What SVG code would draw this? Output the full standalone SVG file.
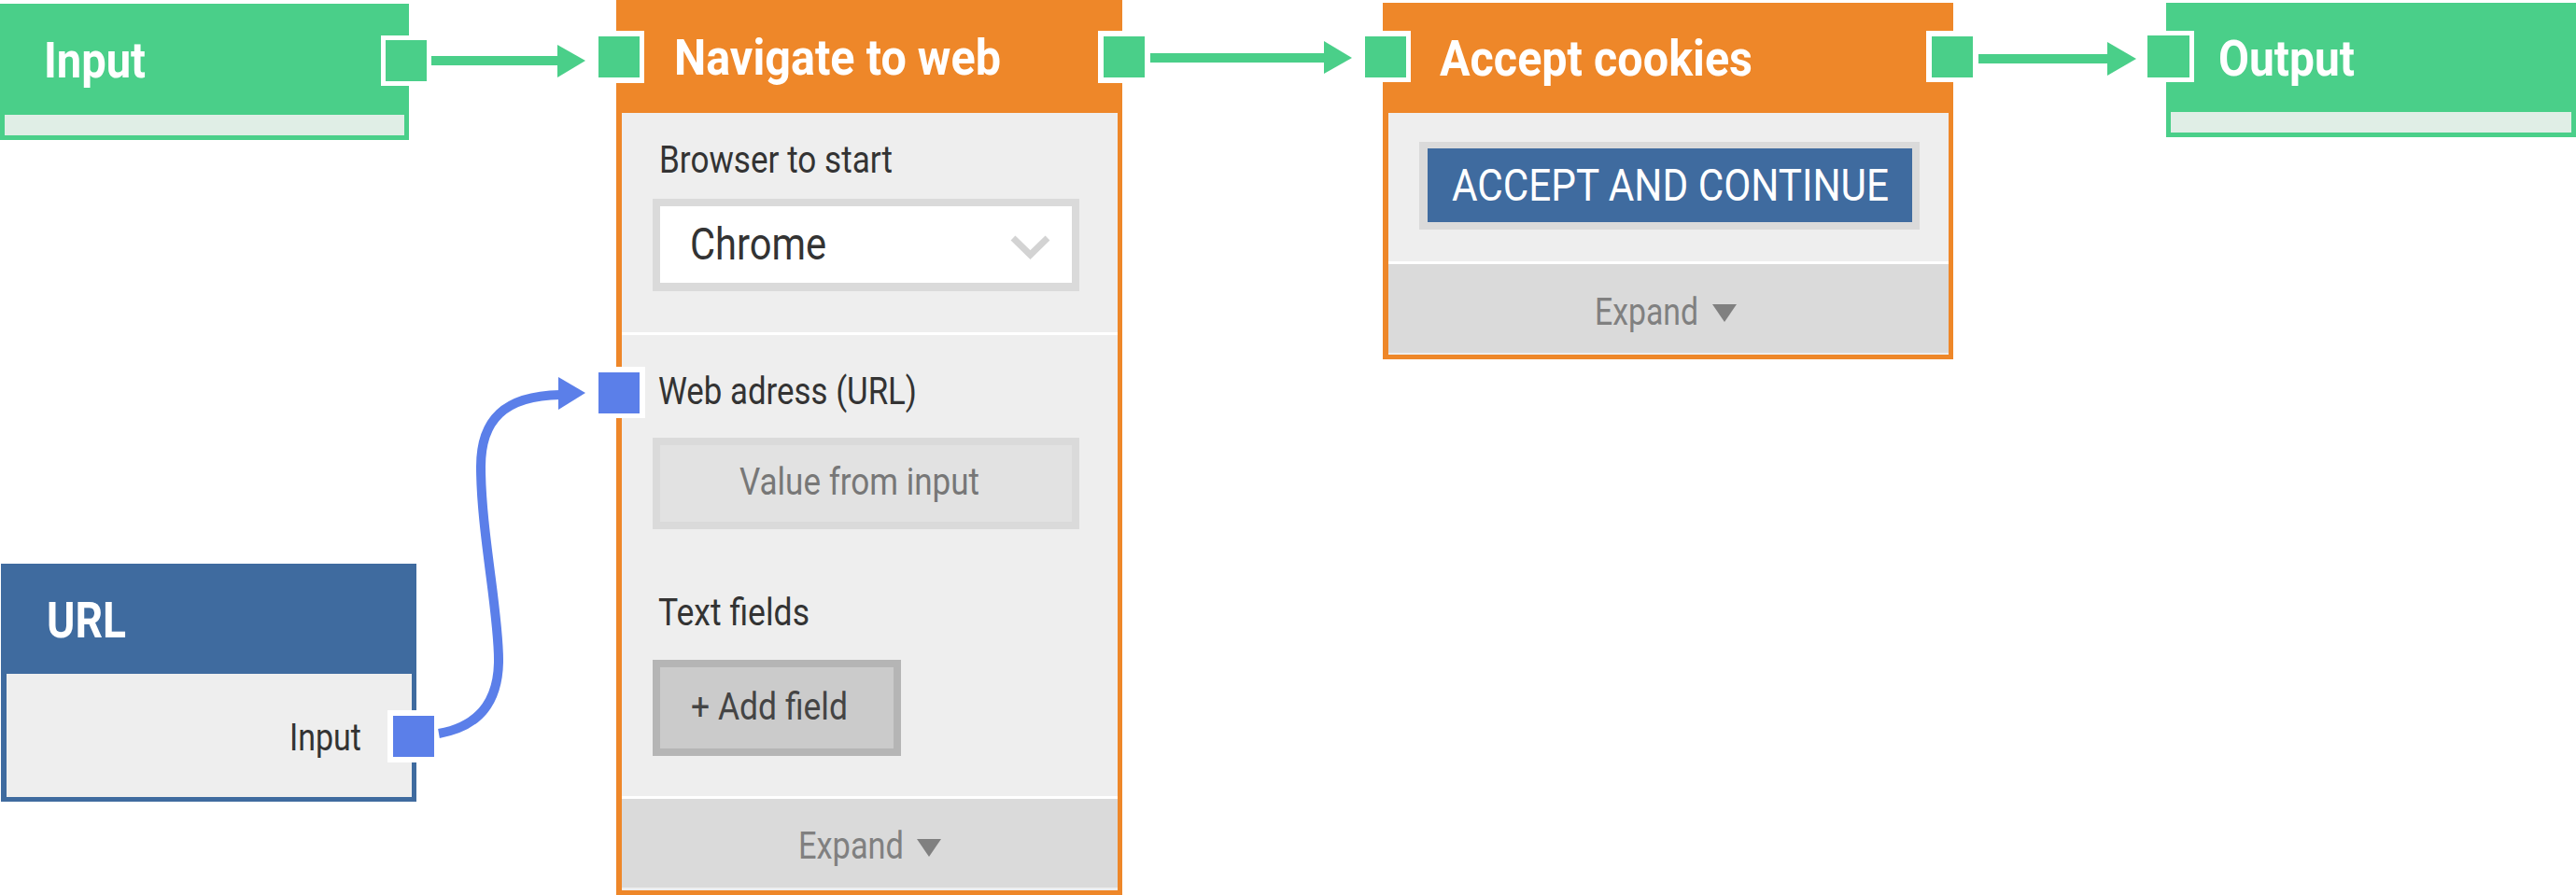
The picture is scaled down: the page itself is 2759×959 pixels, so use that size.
<svg xmlns="http://www.w3.org/2000/svg" width="2759" height="959" viewBox="0 0 2759 959">
<defs>
<style>
.green{fill:#4acf89}
.orange{fill:#ee8729}
.navy{fill:#3f6b9f}
.body{fill:#eeeeee}
.sep{fill:#ffffff}
.exp{fill:#dadada}
.bar{fill:#e0eee6}
.pw{fill:#ffffff}
.pg{fill:#4acf89}
.pb{fill:#5b7fe9}
.title{font-family:Roboto,"Liberation Sans",sans-serif;font-weight:700;font-size:53px;fill:#ffffff}
.lbl{font-family:Roboto,"Liberation Sans",sans-serif;font-size:40px;fill:#333333}
.big{font-family:Roboto,"Liberation Sans",sans-serif;font-size:48px;fill:#333333}
.muted{font-family:Roboto,"Liberation Sans",sans-serif;font-size:40px;fill:#777777}
.expt{font-family:Roboto,"Liberation Sans",sans-serif;font-size:41px;fill:#808080}
.tri{fill:#808080}
.gline{stroke:#4acf89;stroke-width:10;fill:none}
.bline{stroke:#5b7fe9;stroke-width:10;fill:none}
</style>
</defs>

<g id="node-input">
<rect class="green" x="0" y="4" width="438" height="146"/>
<rect class="bar" x="5" y="123" width="428" height="22"/>
<text class="title" x="47" y="83" textLength="109" lengthAdjust="spacingAndGlyphs">Input</text>
<rect class="pw" x="408" y="38" width="55" height="54"/>
<rect class="pg" x="413" y="43" width="44" height="44"/>
</g>

<g id="node-navigate">
<rect class="orange" x="660" y="0" width="542" height="959"/>
<rect class="body" x="666" y="121" width="531" height="833"/>
<text class="title" x="722" y="80" textLength="350" lengthAdjust="spacingAndGlyphs">Navigate to web</text>
<rect class="pw" x="636" y="33" width="54" height="56"/>
<rect class="pg" x="641" y="39" width="44" height="44"/>
<rect class="pw" x="1176" y="33" width="55" height="56"/>
<rect class="pg" x="1182" y="39" width="44" height="44"/>
<text class="lbl" x="706" y="185" textLength="250" lengthAdjust="spacingAndGlyphs">Browser to start</text>
<rect x="699" y="213" width="457" height="99" fill="#dadada"/>
<rect x="707" y="221" width="441" height="82" fill="#ffffff"/>
<text class="big" x="739" y="278" textLength="146" lengthAdjust="spacingAndGlyphs">Chrome</text>
<polyline points="1085,255 1103.5,273 1122,255" fill="none" stroke="#d3d3d3" stroke-width="7"/>
<rect class="sep" x="666" y="356" width="531" height="3"/>
<rect class="pw" x="636" y="393" width="55" height="55"/>
<rect class="pb" x="641" y="399" width="44" height="44"/>
<text class="lbl" x="705" y="433" textLength="277" lengthAdjust="spacingAndGlyphs">Web adress (URL)</text>
<rect x="699" y="469" width="457" height="98" fill="#dadada"/>
<rect x="707" y="477" width="441" height="82" fill="#e2e2e2"/>
<text class="muted" x="792" y="530" textLength="257" lengthAdjust="spacingAndGlyphs">Value from input</text>
<text class="lbl" x="705" y="670" textLength="162" lengthAdjust="spacingAndGlyphs">Text fields</text>
<rect x="699" y="707" width="266" height="103" fill="#b5b5b5"/>
<rect x="707" y="715" width="250" height="87" fill="#cbcbcb"/>
<text class="lbl" x="740" y="771" textLength="168" lengthAdjust="spacingAndGlyphs" style="fill:#444444">+ Add field</text>
<rect class="sep" x="666" y="853" width="531" height="3"/>
<rect class="exp" x="666" y="856" width="531" height="95"/>
<text class="expt" x="855" y="920" textLength="113" lengthAdjust="spacingAndGlyphs">Expand</text>
<polygon class="tri" points="982,899 1008,899 995,918"/>
</g>

<g id="node-accept">
<rect class="orange" x="1481" y="3" width="611" height="382"/>
<rect class="body" x="1487" y="121" width="600" height="259"/>
<text class="title" x="1542" y="81" textLength="335" lengthAdjust="spacingAndGlyphs">Accept cookies</text>
<rect class="pw" x="1457" y="33" width="54" height="55"/>
<rect class="pg" x="1462" y="39" width="44" height="44"/>
<rect class="pw" x="2063" y="33" width="55" height="55"/>
<rect class="pg" x="2069" y="39" width="44" height="44"/>
<rect x="1520" y="152" width="536" height="94" fill="#dadada"/>
<rect class="navy" x="1529" y="159" width="519" height="79"/>
<text class="big" x="1555" y="215" textLength="468" lengthAdjust="spacingAndGlyphs" style="fill:#ffffff">ACCEPT AND CONTINUE</text>
<rect class="sep" x="1487" y="280" width="600" height="3"/>
<rect class="exp" x="1487" y="283" width="600" height="95"/>
<text class="expt" x="1708" y="348" textLength="111" lengthAdjust="spacingAndGlyphs">Expand</text>
<polygon class="tri" points="1834,326 1860,326 1847,345"/>
</g>

<g id="node-output">
<rect class="green" x="2320" y="3" width="439" height="144"/>
<rect class="bar" x="2325" y="120" width="429" height="22"/>
<text class="title" x="2376" y="81" textLength="146" lengthAdjust="spacingAndGlyphs">Output</text>
<rect class="pw" x="2295" y="33" width="55" height="55"/>
<rect class="pg" x="2300" y="38" width="45" height="45"/>
</g>

<g id="node-url">
<rect class="navy" x="1" y="604" width="445" height="255"/>
<rect class="body" x="7" y="722" width="434" height="132"/>
<text class="title" x="50" y="683" textLength="85" lengthAdjust="spacingAndGlyphs">URL</text>
<text class="lbl" x="310" y="804" textLength="77" lengthAdjust="spacingAndGlyphs">Input</text>
<rect class="pw" x="415" y="761" width="56" height="56"/>
<rect class="pb" x="421" y="767" width="44" height="44"/>
</g>

<g id="connectors">
<line class="gline" x1="462" y1="65" x2="598" y2="65"/>
<polygon class="pg" points="597,48 627,65 597,83"/>
<line class="gline" x1="1232" y1="62" x2="1419" y2="62"/>
<polygon class="pg" points="1418,44 1448,62 1418,79"/>
<line class="gline" x1="2119" y1="63" x2="2258" y2="63"/>
<polygon class="pg" points="2257,45 2288,63 2257,81"/>
<path class="bline" d="M470,786 C510,779 533,755 534,710 C535,660 515,570 515,500 C515,450 540,424 600,423"/>
<polygon class="pb" points="598,404 627,421 598,439"/>
</g>
</svg>
